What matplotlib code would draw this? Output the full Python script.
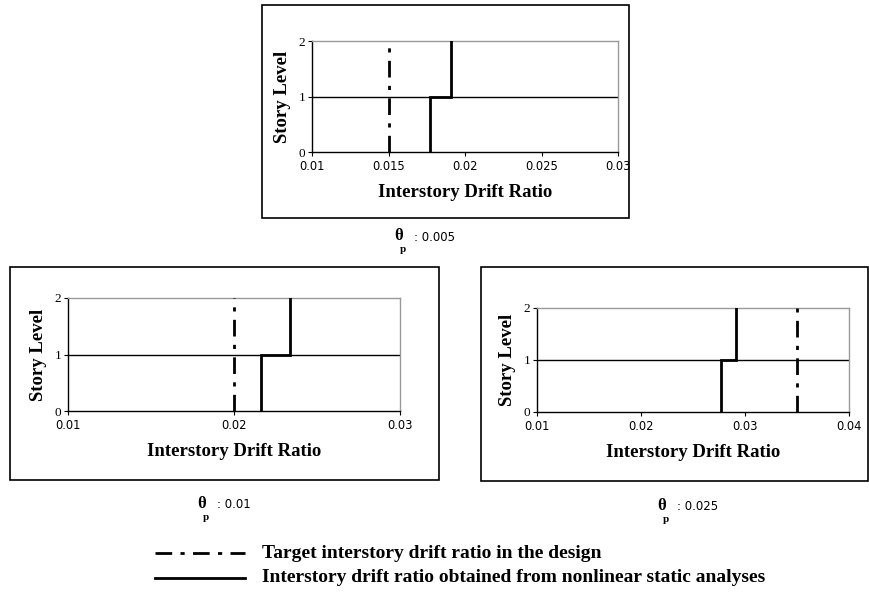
import matplotlib
matplotlib.use("Agg")
import matplotlib.pyplot as plt
from matplotlib.patches import Rectangle
from matplotlib.lines import Line2D

# Story drift results for the three plastic rotation cases
theta_p = ["0.005", "0.01", "0.025"]
target_drift = [0.015, 0.020, 0.035]
story1_drift = [0.0177, 0.0216, 0.0277]
story2_drift = [0.0191, 0.0234, 0.0291]
x_limits = [(0.01, 0.03), (0.01, 0.03), (0.01, 0.04)]
x_ticks = [[0.01, 0.015, 0.02, 0.025, 0.03], [0.01, 0.02, 0.03], [0.01, 0.02, 0.03, 0.04]]
x_ticklabels = [["0.01", "0.015", "0.02", "0.025", "0.03"], ["0.01", "0.02", "0.03"],
                ["0.01", "0.02", "0.03", "0.04"]]
levels = [0, 1, 2]
legend_labels = ["Target interstory drift ratio in the design",
                 "Interstory drift ratio obtained from nonlinear static analyses"]

W, H = 869, 598
fig = plt.figure(figsize=(W / 100, H / 100), dpi=100)
fig.patch.set_facecolor("white")

SERIF = "Liberation Serif"
SANS = "DejaVu Sans"
DASHDOT = (0, (6, 3, 1.5, 3))


def fx(px):
    return px / W


def fy(py):
    return 1 - py / H


def frame(x0, y0, x1, y1):
    fig.patches.append(Rectangle((fx(x0), fy(y1)), fx(x1) - fx(x0), fy(y0) - fy(y1),
                                 transform=fig.transFigure, fill=False,
                                 edgecolor="black", linewidth=1.2))


# panel layout in pixels: axes box, outer frame, caption position
panels = [
    dict(ax=(312, 41, 618, 152), frame=(262, 5, 629, 218), cap=(394, 236)),
    dict(ax=(68, 298, 400, 411), frame=(10, 267, 439, 480), cap=(197, 504)),
    dict(ax=(537, 308, 849, 412), frame=(481, 267, 868, 481), cap=(657, 506)),
]

for i, p in enumerate(panels):
    l, t, r, b = p["ax"]
    frame(*p["frame"])
    ax = fig.add_axes([fx(l), fy(b), fx(r) - fx(l), fy(t) - fy(b)])
    xmin, xmax = x_limits[i]
    ax.set_xlim(xmin, xmax)
    ax.set_ylim(0, 2)

    # horizontal gridline at story 1
    ax.axhline(1, color="black", linewidth=1.0, zorder=1)

    # target drift (dash-dot)
    ax.plot([target_drift[i], target_drift[i]], [levels[0], levels[-1]],
            color="black", linewidth=2.0, linestyle=DASHDOT, zorder=3)

    # drift from analysis (step profile)
    xs = [story1_drift[i], story1_drift[i], story2_drift[i], story2_drift[i]]
    ys = [levels[0], levels[1], levels[1], levels[2]]
    ax.plot(xs, ys, color="black", linewidth=2.0, solid_joinstyle="miter", zorder=4)

    ax.set_xticks(x_ticks[i])
    ax.set_xticklabels(x_ticklabels[i], fontfamily=SANS, fontsize=8.3)
    ax.set_yticks(levels)
    ax.set_yticklabels([str(v) for v in levels], fontfamily=SERIF, fontsize=9.5)
    ax.tick_params(axis="x", direction="out", length=3, width=0.8, pad=3)
    ax.tick_params(axis="y", direction="out", length=3, width=0.8, pad=2)

    for side in ("left", "bottom"):
        ax.spines[side].set_color("black")
        ax.spines[side].set_linewidth(1.0)
    for side in ("top", "right"):
        ax.spines[side].set_color("#9a9a9a")
        ax.spines[side].set_linewidth(1.0)

    ax.set_xlabel("Interstory Drift Ratio", fontfamily=SERIF, fontweight="bold",
                  fontsize=13.5, labelpad=8)
    ax.set_ylabel("Story Level", fontfamily=SERIF, fontweight="bold",
                  fontsize=13.5, labelpad=5)

    # caption: theta_p : value
    cx, cy = p["cap"]
    fig.text(fx(cx), fy(cy), "\u03b8", fontfamily=SERIF, fontweight="bold",
             fontsize=12, ha="left", va="center")
    fig.text(fx(cx + 6), fy(cy + 14), "p", fontfamily=SERIF, fontweight="bold",
             fontsize=8, ha="left", va="center")
    fig.text(fx(cx + 20), fy(cy + 1), ": " + theta_p[i], fontfamily=SANS,
             fontsize=8.5, ha="left", va="center")

# legend at the bottom
leg_y = [553, 578]
styles = [DASHDOT, "-"]
for yv, st, lab in zip(leg_y, styles, legend_labels):
    fig.add_artist(Line2D([fx(155), fx(245)], [fy(yv), fy(yv)], transform=fig.transFigure,
                          color="black", linewidth=2.0, linestyle=st))
    fig.text(fx(262), fy(yv), lab, fontfamily=SERIF, fontweight="bold", fontsize=14,
             ha="left", va="center")

fig.savefig("out.png", dpi=100, facecolor="white")
